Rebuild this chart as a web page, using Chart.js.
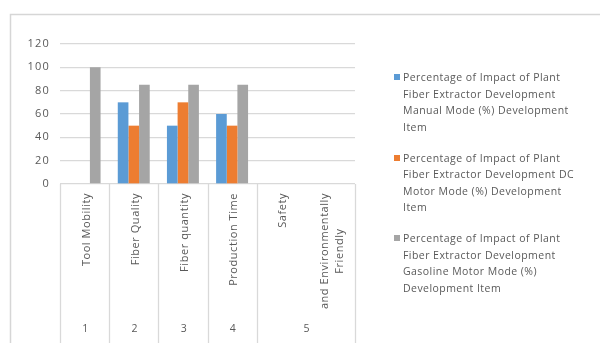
<!DOCTYPE html>
<html>
<head>
<meta charset="utf-8">
<script src="https://cdn.jsdelivr.net/npm/chart.js@4.4.0/dist/chart.umd.min.js"></script>
<style>
  html, body { margin: 0; padding: 0; background: #fff; }
  #wrap { position: relative; width: 600px; height: 343px; overflow: hidden; }
  #legend { position: absolute; left: 392px; top: 69px; width: 190px;
    font-family: "Open Sans", sans-serif; font-size: 10.5px; letter-spacing: 0.45px; color: #595959; line-height: 16.5px; }
  .item { position: relative; padding-left: 11px; margin-bottom: 14.5px; }
  .sw { position: absolute; left: 2px; top: 5px; width: 6px; height: 6px; }
</style>
</head>
<body>
<div id="wrap">
  <canvas id="c" width="600" height="343"></canvas>
  <div id="legend"></div>
</div>
<script>
// ---- data ----
const categories = ["Tool Mobility", "Fiber Quality", "Fiber quantity", "Production Time", "Safety", ["and Environmentally", "Friendly"]];
const groups = ["1", "2", "3", "4", "5", "5"];
const seriesNames = [
  "Percentage of Impact of Plant Fiber Extractor Development Manual Mode (%) Development Item",
  "Percentage of Impact of Plant Fiber Extractor Development DC Motor Mode (%) Development Item",
  "Percentage of Impact of Plant Fiber Extractor Development Gasoline Motor Mode (%) Development Item"
];
const manualMode = [null, 70, 50, 60, null, null];
const dcMotorMode = [null, 50, 70, 50, null, null];
const gasolineMode = [100, 85, 85, 85, null, null];
const yTicks = [0, 20, 40, 60, 80, 100, 120];
const colors = ["#5B9BD5", "#ED7D31", "#A5A5A5"];

const FONT = '"Open Sans", sans-serif';
const TXT = '#595959';
const LINE = '#d9d9d9';

const tablePlugin = {
  id: 'table',
  beforeDraw(chart) {
    const ctx = chart.ctx;
    ctx.save();
    ctx.strokeStyle = '#d6d6d6';
    ctx.lineWidth = 1.5;
    ctx.strokeRect(10.5, 14.5, 800, 500);
    ctx.restore();
    if ('letterSpacing' in ctx) ctx.letterSpacing = '1.2px';
  },
  afterDraw(chart) {
    const ctx = chart.ctx;
    const xs = chart.scales.x;
    const area = chart.chartArea;
    const step = xs.getPixelForValue(1) - xs.getPixelForValue(0);
    ctx.save();
    ctx.strokeStyle = LINE;
    ctx.lineWidth = 1.3;
    for (let i = 0; i <= categories.length; i++) {
      if (i > 0 && i < categories.length && groups[i] === groups[i - 1]) continue;
      const px = Math.round(xs.getPixelForValue(0) + (i - 0.5) * step) + 0.5;
      ctx.beginPath();
      ctx.moveTo(px, area.bottom);
      ctx.lineTo(px, chart.height);
      ctx.stroke();
    }
    ctx.fillStyle = TXT;
    ctx.font = '11px ' + FONT;
    if ('letterSpacing' in ctx) ctx.letterSpacing = '0.55px';
    categories.forEach((lab, i) => {
      const lines = Array.isArray(lab) ? lab : [lab];
      const w = Math.max(...lines.map(l => ctx.measureText(l).width));
      const cx = xs.getPixelForValue(i);
      const lh = 15;
      lines.forEach((l, j) => {
        ctx.save();
        ctx.translate(cx + 2 + (j - (lines.length - 1) / 2) * lh, area.bottom + 9 + w / 2);
        ctx.rotate(-Math.PI / 2);
        ctx.textAlign = 'center';
        ctx.textBaseline = 'middle';
        ctx.fillText(l, 0, 0);
        ctx.restore();
      });
    });
    // outer level labels
    ctx.font = '10.5px ' + FONT;
    ctx.textAlign = 'center';
    ctx.textBaseline = 'middle';
    let s = 0;
    for (let i = 1; i <= groups.length; i++) {
      if (i === groups.length || groups[i] !== groups[s]) {
        const cx = (xs.getPixelForValue(s) + xs.getPixelForValue(i - 1)) / 2;
        ctx.fillText(groups[s], cx + 1, 329);
        s = i;
      }
    }
    ctx.restore();
  }
};

const chart = new Chart(document.getElementById('c'), {
  type: 'bar',
  data: {
    labels: categories,
    datasets: [manualMode, dcMotorMode, gasolineMode].map((d, i) => ({
      label: seriesNames[i],
      data: d,
      backgroundColor: colors[i],
      borderWidth: 0,
      categoryPercentage: 0.65,
      barPercentage: 1.0
    }))
  },
  options: {
    responsive: false,
    animation: false,
    devicePixelRatio: 1,
    layout: { padding: { top: 44, right: 245, bottom: 0, left: 0 } },
    plugins: { legend: { display: false }, tooltip: { enabled: false } },
    scales: {
      x: {
        grid: { display: false },
        border: { display: false },
        ticks: { display: false },
        afterFit(scale) { scale.height = 343 - 184; }
      },
      y: {
        min: 0, max: 120,
        afterBuildTicks(scale) { scale.ticks = yTicks.map(v => ({ value: v })); },
        grid: { color: LINE, lineWidth: 1.3, drawTicks: false },
        border: { display: false },
        ticks: { color: TXT, font: { family: FONT, size: 11 }, padding: 10 },
        afterFit(scale) { scale.width = 60; }
      }
    }
  },
  plugins: [tablePlugin]
});

// HTML legend
const leg = document.getElementById('legend');
seriesNames.forEach((name, i) => {
  const it = document.createElement('div');
  it.className = 'item';
  const sw = document.createElement('span');
  sw.className = 'sw';
  sw.style.background = colors[i];
  it.appendChild(sw);
  it.appendChild(document.createTextNode(name));
  leg.appendChild(it);
});
</script>
</body>
</html>
